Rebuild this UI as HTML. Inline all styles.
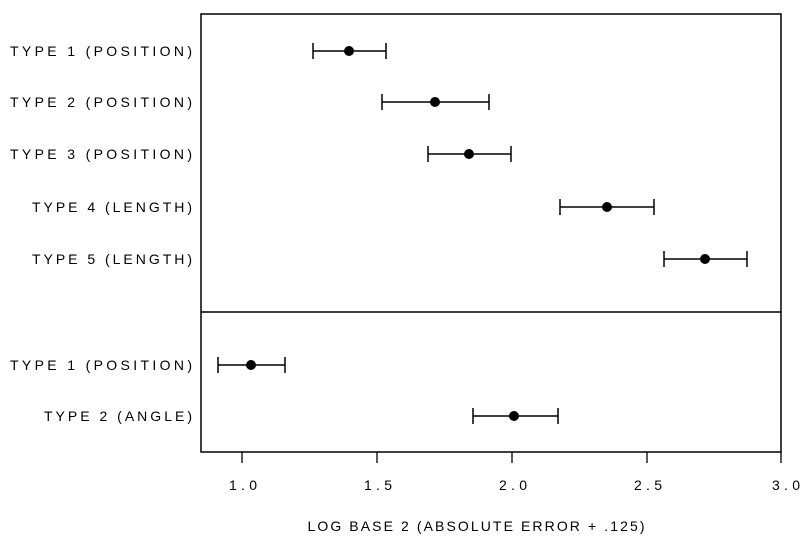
<!DOCTYPE html>
<html><head><meta charset="utf-8"><style>html,body{margin:0;padding:0;background:#fff}</style></head>
<body>
<svg width="808" height="538" xmlns="http://www.w3.org/2000/svg" font-family="Liberation Sans, DejaVu Sans, sans-serif" font-size="14" fill="#000">
<rect x="201" y="14" width="580" height="438" fill="none" stroke="#000" stroke-width="1.5"/>
<line x1="201" y1="312" x2="781" y2="312" stroke="#000" stroke-width="1.5"/>
<g stroke="#000" stroke-width="1.3">
<line x1="242" y1="452" x2="242" y2="463"/><line x1="377" y1="452" x2="377" y2="463"/><line x1="512" y1="452" x2="512" y2="463"/><line x1="647" y1="452" x2="647" y2="463"/><line x1="781" y1="452" x2="781" y2="463"/>
</g>
<g stroke="#000" stroke-width="1.5">
<path d="M313 51H386M313 43V59M386 43V59"/>
<path d="M382 102H489M382 94V110M489 94V110"/>
<path d="M428 154H511M428 146V162M511 146V162"/>
<path d="M560 207H654M560 199V215M654 199V215"/>
<path d="M664 259H747M664 251V267M747 251V267"/>
<path d="M218 365H285M218 357V373M285 357V373"/>
<path d="M473 416H558M473 408V424M558 408V424"/>
</g>
<g>
<circle cx="349" cy="51" r="5"/><circle cx="435" cy="102" r="5"/><circle cx="469" cy="154" r="5"/><circle cx="607" cy="207" r="5"/><circle cx="705" cy="259" r="5"/><circle cx="251" cy="365" r="5"/><circle cx="514" cy="416" r="5"/>
</g>
<g text-anchor="end">
<text x="192" y="56" textLength="182" lengthAdjust="spacing">TYPE 1 (POSITION)</text>
<text x="192" y="107" textLength="182" lengthAdjust="spacing">TYPE 2 (POSITION)</text>
<text x="192" y="159" textLength="182" lengthAdjust="spacing">TYPE 3 (POSITION)</text>
<text x="192" y="212" textLength="160" lengthAdjust="spacing">TYPE 4 (LENGTH)</text>
<text x="192" y="264" textLength="160" lengthAdjust="spacing">TYPE 5 (LENGTH)</text>
<text x="192" y="370" textLength="182" lengthAdjust="spacing">TYPE 1 (POSITION)</text>
<text x="192" y="421" textLength="148" lengthAdjust="spacing">TYPE 2 (ANGLE)</text>
</g>
<g text-anchor="middle">
<text x="243" y="490" textLength="28" lengthAdjust="spacing">1.0</text><text x="378" y="490" textLength="28" lengthAdjust="spacing">1.5</text><text x="513" y="490" textLength="28" lengthAdjust="spacing">2.0</text><text x="648" y="490" textLength="28" lengthAdjust="spacing">2.5</text><text x="786" y="490" textLength="28" lengthAdjust="spacing">3.0</text>
<text x="476" y="531" textLength="337" lengthAdjust="spacing">LOG BASE 2 (ABSOLUTE ERROR + .125)</text>
</g>
</svg>
</body></html>
